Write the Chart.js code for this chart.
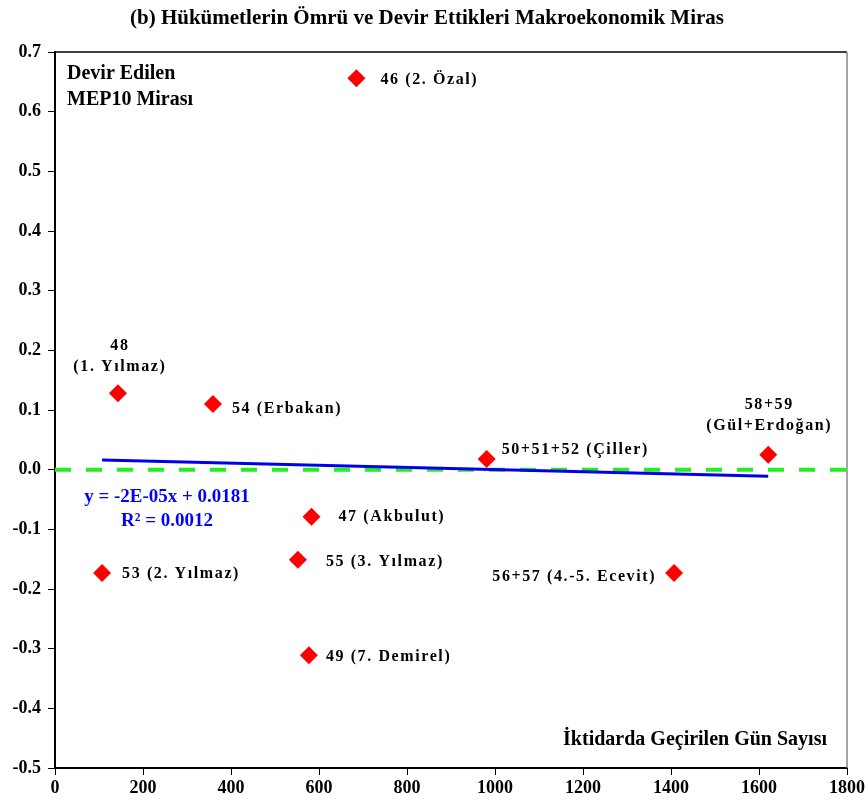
<!DOCTYPE html>
<html>
<head>
<meta charset="utf-8">
<script src="https://cdn.jsdelivr.net/npm/chart.js@4"></script>
<style>
  html, body { margin: 0; padding: 0; background: #fff; }
  #wrap { width: 868px; height: 804px; }
</style>
</head>
<body>
<div id="wrap"><canvas id="chart" width="868" height="804"></canvas></div>
<script>
// days in power vs. inherited MEP10 legacy
const govDays = [685, 143, 359, 981, 1621, 583, 107, 552, 577, 1407];
const legacy = [0.656, 0.128, 0.110, 0.018, 0.025, -0.079, -0.173, -0.151, -0.311, -0.173];
const govLabels = [
  ["46 (2. Özal)"],
  ["48", "(1. Yılmaz)"],
  ["54 (Erbakan)"],
  ["50+51+52 (Çiller)"],
  ["58+59", "(Gül+Erdoğan)"],
  ["47 (Akbulut)"],
  ["53 (2. Yılmaz)"],
  ["55 (3. Yılmaz)"],
  ["49 (7. Demirel)"],
  ["56+57 (4.-5. Ecevit)"]
];
// trend line ends
const trendX = [107, 1621];
const trendY = [0.016, -0.011];
const zeroX = [0, 1800];
const zeroY = [0, 0];
const xTicks = [0, 1800, 200];
const yTicks = [-0.5, 0.7, 0.1];

// where each label sits relative to its point (px), and alignment
const labelPos = [
  { dx: 24, dy: 2, align: "left" },
  { dx: 2, dy: -47, align: "center" },
  { dx: 19, dy: 5, align: "left" },
  { dx: 15, dy: -9, align: "left" },
  { dx: 1, dy: -50, align: "center" },
  { dx: 27, dy: 0, align: "left" },
  { dx: 20, dy: 1, align: "left" },
  { dx: 28, dy: 2, align: "left" },
  { dx: 17, dy: 2, align: "left" },
  { dx: -18, dy: 4, align: "right" }
];

const serif = "'Liberation Serif', 'Times New Roman', serif";

const toPts = (xs, ys) => xs.map((x, i) => ({ x: x, y: ys[i] }));

const extras = {
  id: "extras",
  afterDraw(chart) {
    const ctx = chart.ctx;
    const a = chart.chartArea;
    const xs = chart.scales.x, ys = chart.scales.y;
    ctx.save();
    // box border (top black, right grey)
    ctx.lineWidth = 1.5;
    ctx.strokeStyle = "#000";
    ctx.beginPath();
    ctx.moveTo(a.left, a.top);
    ctx.lineTo(a.right, a.top);
    ctx.stroke();
    ctx.strokeStyle = "#888";
    ctx.beginPath();
    ctx.moveTo(a.right, a.top);
    ctx.lineTo(a.right, a.bottom);
    ctx.stroke();

    // title
    ctx.fillStyle = "#000";
    ctx.textAlign = "center";
    ctx.textBaseline = "middle";
    ctx.font = "bold 21px " + serif;
    ctx.fillText("(b) Hükümetlerin Ömrü ve Devir Ettikleri Makroekonomik Miras", 427, 19);

    // corner notes
    ctx.font = "bold 20px " + serif;
    ctx.textAlign = "left";
    ctx.fillText("Devir Edilen", 67, 74);
    ctx.fillText("MEP10 Mirası", 67, 100);
    ctx.textAlign = "right";
    ctx.fillText("İktidarda Geçirilen Gün Sayısı", 827, 740);

    // regression equation
    ctx.fillStyle = "#0000ff";
    ctx.textAlign = "center";
    ctx.font = "bold 19px " + serif;
    ctx.fillText("y = -2E-05x + 0.0181", 167, 497);
    ctx.fillText("R² = 0.0012", 167, 521);

    // point labels
    ctx.fillStyle = "#000";
    ctx.font = "bold 16px " + serif;
    ctx.letterSpacing = "1.6px";
    govLabels.forEach((lines, i) => {
      const px = xs.getPixelForValue(govDays[i]);
      const py = ys.getPixelForValue(legacy[i]);
      const p = labelPos[i];
      ctx.textAlign = p.align;
      lines.forEach((t, k) => {
        ctx.fillText(t, px + p.dx, py + p.dy + k * 21);
      });
    });
    ctx.restore();
  }
};

new Chart(document.getElementById("chart"), {
  type: "scatter",
  data: {
    datasets: [
      {
        label: "Sıfır",
        data: toPts(zeroX, zeroY),
        showLine: true,
        borderColor: "#22ee22",
        borderWidth: 4,
        borderDash: [16, 15],
        pointRadius: 0,
        order: 3
      },
      {
        label: "Trend",
        data: toPts(trendX, trendY),
        showLine: true,
        borderColor: "#0000ee",
        borderWidth: 3,
        pointRadius: 0,
        order: 2
      },
      {
        label: "Hükümetler",
        data: toPts(govDays, legacy),
        pointStyle: "rectRot",
        pointRadius: 9,
        pointHoverRadius: 9,
        backgroundColor: "#ff0000",
        borderColor: "#ff0000",
        borderWidth: 0,
        order: 1
      }
    ]
  },
  options: {
    responsive: false,
    animation: false,
    layout: { padding: { top: 52, right: 20, left: 0, bottom: 0 } },
    plugins: {
      legend: { display: false },
      tooltip: { enabled: false },
      title: { display: false }
    },
    scales: {
      x: {
        type: "linear",
        min: xTicks[0],
        max: xTicks[1],
        ticks: {
          stepSize: xTicks[2],
          color: "#000",
          font: { family: serif, size: 18, weight: "bold" },
          padding: 3,
          maxRotation: 0,
          callback: (v) => String(Math.round(v))
        },
        grid: { drawOnChartArea: false, drawTicks: true, tickLength: 7, color: "#000" },
        border: { color: "#000", width: 2 },
        afterFit: (s) => { s.height = 36; }
      },
      y: {
        type: "linear",
        min: yTicks[0],
        max: yTicks[1],
        ticks: {
          stepSize: yTicks[2],
          color: "#000",
          font: { family: serif, size: 18, weight: "bold" },
          padding: 7,
          callback: (v) => (Math.abs(v) < 1e-9 ? "0.0" : v.toFixed(1))
        },
        grid: { drawOnChartArea: false, drawTicks: true, tickLength: 7, color: "#000" },
        border: { color: "#000", width: 2 },
        afterFit: (s) => { s.width = 55; }
      }
    }
  },
  plugins: [extras]
});
</script>
</body>
</html>
